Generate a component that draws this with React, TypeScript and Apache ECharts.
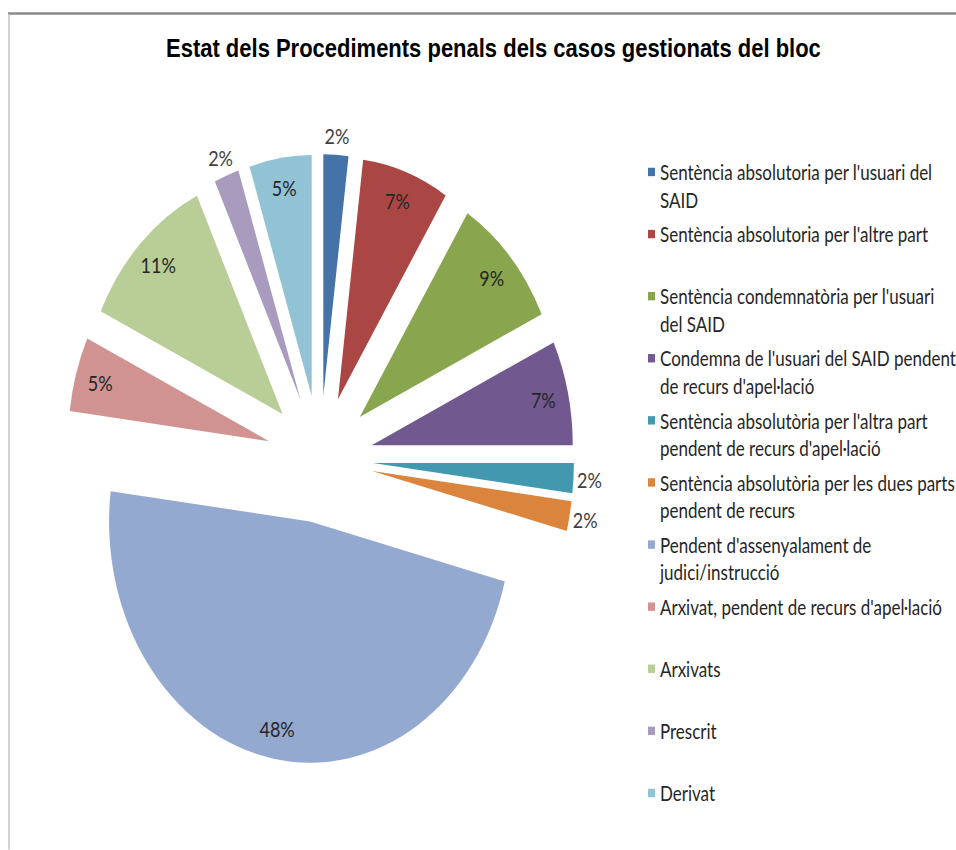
import React, { useEffect, useRef } from "react";
import * as echarts from "echarts";

const TITLE = "Estat dels Procediments penals dels casos gestionats del bloc";

const categories: string[] = [
  "Sentència absolutoria per l'usuari del\nSAID",
  "Sentència absolutoria per l'altre part",
  "Sentència condemnatòria per l'usuari\ndel SAID",
  "Condemna de l'usuari del SAID pendent\nde recurs d'apel·lació",
  "Sentència absolutòria per l'altra part\npendent de recurs d'apel·lació",
  "Sentència absolutòria per les dues parts\npendent de recurs",
  "Pendent d'assenyalament de\njudici/instrucció",
  "Arxivat, pendent de recurs d'apel·lació",
  "Arxivats",
  "Prescrit",
  "Derivat",
];

const percentages: number[] = [2, 7, 9, 7, 2, 2, 48, 5, 11, 2, 5];

const colors: string[] = [
  "#4572A7",
  "#AA4643",
  "#89A54E",
  "#71588F",
  "#4198AF",
  "#DB843D",
  "#93A9CF",
  "#D19392",
  "#B9CD96",
  "#A99BBD",
  "#92C3D4",
];

// layout (the reference picture is stretched vertically; the chart is drawn
// in a 956 x 708 box and scaled to 956 x 850)
const W = 956;
const H = 850;
const SY = 1.2;
const HI = H / SY;
const CX = 320;
const CY = 382.5;
const R = 201;
const OFFSET = 53;
const OUTSIDE_BELOW = 3; // slices below this percentage get their label outside
const LEG_X = 648;
const LEG_Y0 = 143.3;
const LEG_STEP = 51.75;
const LINE_H = 22.9;
const LABEL_FONT = "Lato, 'Open Sans', sans-serif";

export default function App() {
  const ref = useRef<HTMLDivElement>(null);

  useEffect(() => {
    if (!ref.current) return;
    const chart = echarts.init(ref.current, null, { renderer: "svg" });

    const common = {
      type: "pie" as const,
      center: [CX, CY],
      startAngle: 90,
      clockwise: true,
      selectedMode: "multiple" as const,
      selectedOffset: OFFSET,
      avoidLabelOverlap: false,
      labelLine: { show: false },
      percentPrecision: 0,
      emphasis: { disabled: true },
    };

    const legends = categories.map((name, i) => {
      const lines = name.split("\n").length;
      const shown = lines > 1 ? 2 * lines - 1 : 1;
      const c = LEG_Y0 + i * LEG_STEP;
      return {
        orient: "vertical" as const,
        left: LEG_X,
        top: c - (shown * LINE_H) / 2,
        padding: 0,
        itemWidth: 7,
        itemHeight: 7,
        icon: "rect",
        data: [name],
        // an empty first line keeps the square level with the first text line
        formatter: (n: string) => (n.indexOf("\n") >= 0 ? "\n" + n : n),
        textStyle: {
          fontFamily: LABEL_FONT,
          fontSize: 17,
          color: "#262626",
          lineHeight: LINE_H,
        },
      };
    });

    const labelStyle = {
      show: true,
      position: "inside" as const,
      formatter: "{d}%",
      fontFamily: LABEL_FONT,
      fontSize: 18,
      color: "#262626",
    };

    chart.setOption({
      animation: false,
      backgroundColor: "#ffffff",
      title: {
        text: TITLE,
        left: 161,
        top: 24,
        textStyle: {
          fontFamily: "'Liberation Sans', Arial, sans-serif",
          fontSize: 22,
          fontWeight: "bold",
          color: "#000000",
        },
      },
      legend: legends,
      graphic: [
        {
          type: "line",
          shape: { x1: 8, y1: 11.2, x2: W, y2: 11.2 },
          style: { stroke: "#8a8a8a", lineWidth: 2 },
          silent: true,
        },
        {
          type: "line",
          shape: { x1: 9, y1: 12, x2: 9, y2: HI },
          style: { stroke: "#d2d2d2", lineWidth: 2 },
          silent: true,
        },
      ],
      series: [
        {
          ...common,
          name: "slices",
          radius: [0, R],
          label: { show: false },
          data: categories.map((n, i) => ({
            name: n,
            value: percentages[i],
            selected: true,
            itemStyle: { color: colors[i] },
          })),
        },
        {
          ...common,
          name: "inner-labels",
          radius: [R * 0.72, R],
          silent: true,
          itemStyle: { color: "rgba(0,0,0,0)" },
          select: { itemStyle: { color: "rgba(0,0,0,0)", borderWidth: 0 } },
          label: labelStyle,
          data: categories.map((n, i) => ({
            name: n,
            value: percentages[i],
            selected: true,
            label: { show: percentages[i] >= OUTSIDE_BELOW },
          })),
        },
        {
          ...common,
          name: "outer-labels",
          radius: [R, R * 1.13],
          silent: true,
          itemStyle: { color: "rgba(0,0,0,0)" },
          select: { itemStyle: { color: "rgba(0,0,0,0)", borderWidth: 0 } },
          label: { ...labelStyle, color: "#404040" },
          data: categories.map((n, i) => ({
            name: n,
            value: percentages[i],
            selected: true,
            label: { show: percentages[i] < OUTSIDE_BELOW },
          })),
        },
      ],
    });

    return () => chart.dispose();
  }, []);

  return (
    <div
      style={{
        position: "absolute",
        left: 0,
        top: 0,
        width: W,
        height: H,
        overflow: "hidden",
        background: "#ffffff",
      }}
    >
      <div
        ref={ref}
        style={{
          width: W,
          height: HI,
          transform: `scaleY(${SY})`,
          transformOrigin: "0 0",
        }}
      />
    </div>
  );
}
